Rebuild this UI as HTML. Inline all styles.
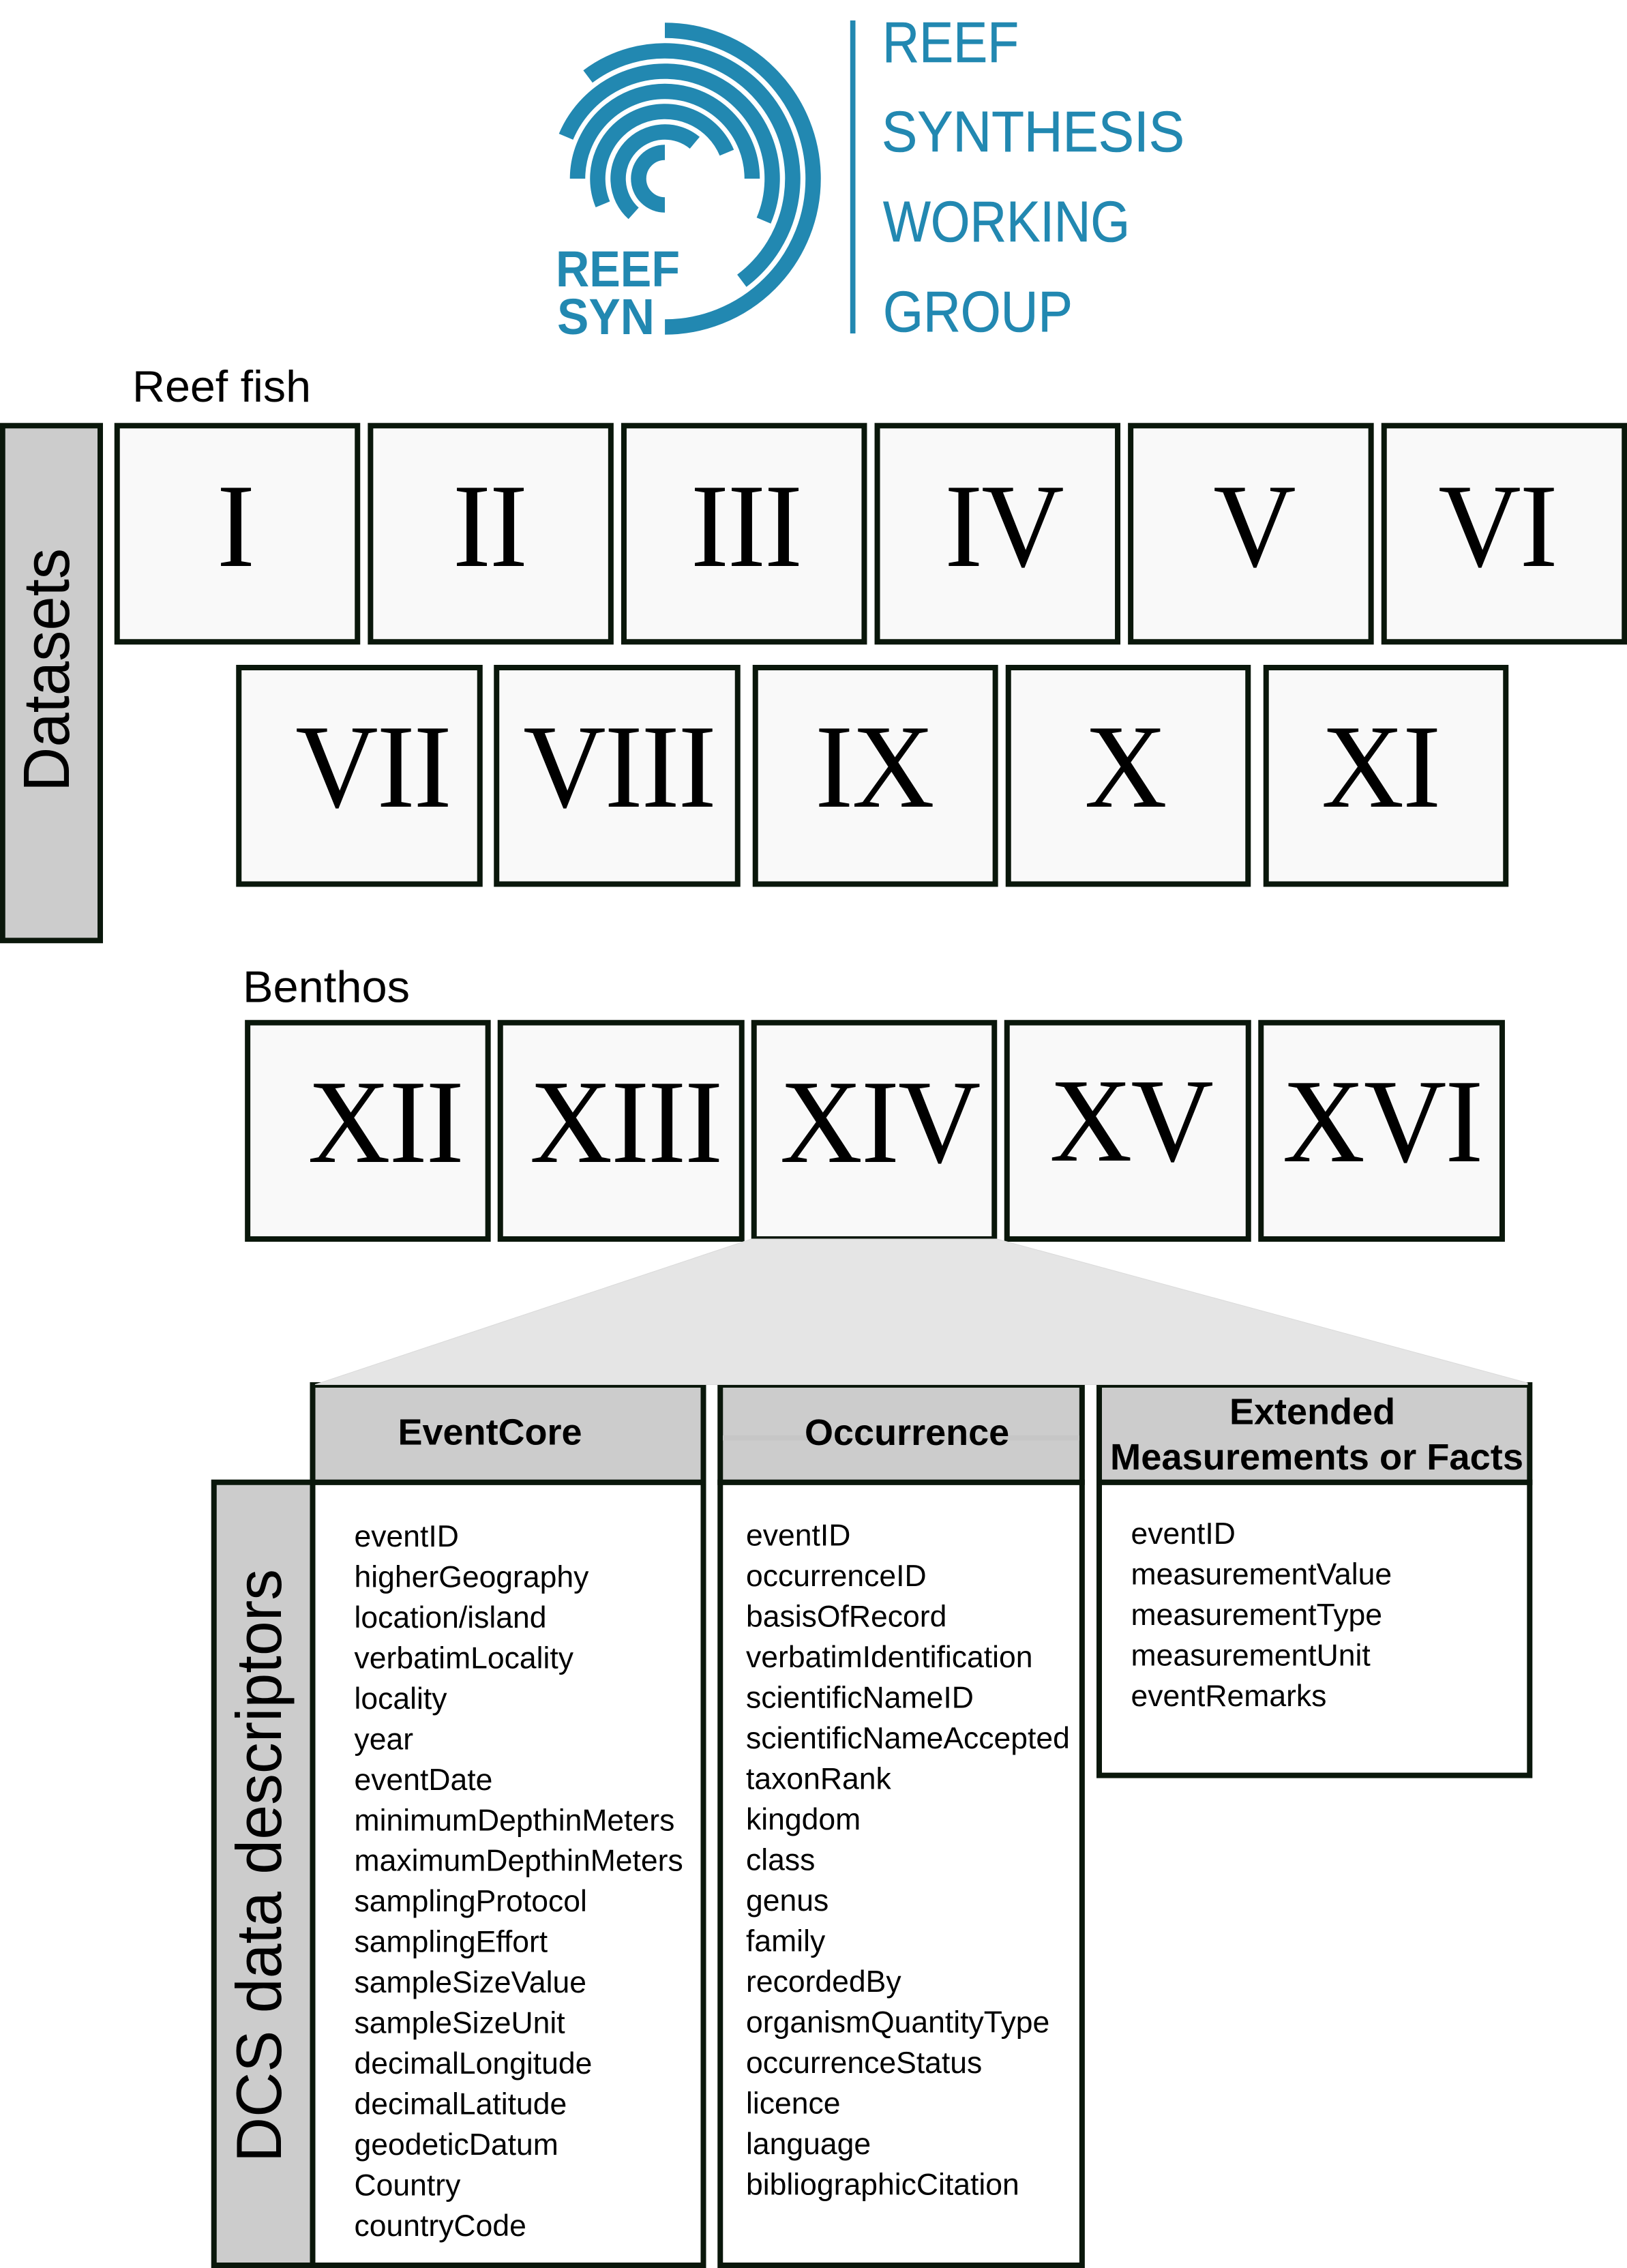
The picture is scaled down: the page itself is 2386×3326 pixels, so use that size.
<!DOCTYPE html>
<html lang="en">
<head>
<meta charset="utf-8">
<title>Reef Synthesis Working Group data overview</title>
<style>
html,body{margin:0;padding:0;background:#fff;}
svg{display:block;}
.sans{font-family:"Liberation Sans",sans-serif;}
.serif{font-family:"Liberation Serif",serif;font-size:175px;fill:#000;text-anchor:middle;letter-spacing:-2px;}
.box{fill:#f9f9f9;stroke:#0a170b;stroke-width:8;}
.side{fill:#ccc;stroke:#0a170b;stroke-width:8;}
.body{fill:#fff;stroke:#0a170b;stroke-width:8;}
.arc{fill:none;stroke:#2288b1;stroke-width:22.5;}
.lt{font-family:"Liberation Sans",sans-serif;font-size:84px;fill:#2288b1;stroke:#2288b1;stroke-width:.6px;}
.f{font-family:"Liberation Sans",sans-serif;font-size:44.5px;fill:#000;}
.h{font-family:"Liberation Sans",sans-serif;font-size:54px;font-weight:bold;fill:#000;}
</style>
</head>
<body>
<svg xmlns="http://www.w3.org/2000/svg" width="2386" height="3326" viewBox="0 0 2386 3326">
<rect x="0" y="0" width="2386" height="3326" fill="#fff"/>

<g>
<circle class="arc" cx="975" cy="262" r="217.5" pathLength="360" stroke-dasharray="180 360" transform="rotate(-90 975 262)"/>
<circle class="arc" cx="975" cy="262" r="187.5" pathLength="360" stroke-dasharray="180 360" transform="rotate(-127 975 262)"/>
<circle class="arc" cx="975" cy="262" r="157.5" pathLength="360" stroke-dasharray="180 360" transform="rotate(-157 975 262)"/>
<circle class="arc" cx="975" cy="262" r="128" pathLength="360" stroke-dasharray="180 360" transform="rotate(-180 975 262)"/>
<circle class="arc" cx="975" cy="262" r="98.5" pathLength="360" stroke-dasharray="180 360" transform="rotate(-202.5 975 262)"/>
<circle class="arc" cx="975" cy="262" r="68.5" pathLength="360" stroke-dasharray="178 360" transform="rotate(-228 975 262)"/>
<circle class="arc" cx="975" cy="262" r="38.5" pathLength="360" stroke-dasharray="180 360" transform="rotate(90 975 262)"/>
<text class="sans" x="815" y="420" font-size="74" font-weight="bold" fill="#2288b1" textLength="182" lengthAdjust="spacingAndGlyphs">REEF</text>
<text class="sans" x="817" y="490" font-size="74" font-weight="bold" fill="#2288b1" textLength="143" lengthAdjust="spacingAndGlyphs">SYN</text>
<rect x="1246.8" y="30" width="7.7" height="459" fill="#2288b1"/>
<text class="lt" x="1294" y="91" textLength="200" lengthAdjust="spacingAndGlyphs">REEF</text>
<text class="lt" x="1293" y="222" textLength="444" lengthAdjust="spacingAndGlyphs">SYNTHESIS</text>
<text class="lt" x="1295" y="354" textLength="362" lengthAdjust="spacingAndGlyphs">WORKING</text>
<text class="lt" x="1295" y="486" textLength="278" lengthAdjust="spacingAndGlyphs">GROUP</text>
</g>

<text class="sans" x="194" y="589" font-size="65" fill="#000" textLength="262" lengthAdjust="spacingAndGlyphs">Reef fish</text>

<rect class="side" x="3.75" y="624.25" width="143.25" height="755"/>
<text class="sans" transform="translate(101 1161) rotate(-90)" x="0" y="0" font-size="96" fill="#000" textLength="357" lengthAdjust="spacingAndGlyphs">Datasets</text>

<g>
<rect class="box" x="171.75" y="624.25" width="352.5" height="317"/>
<text class="serif" transform="translate(345 830) scale(.96 1)" x="0" y="0">I</text>
<rect class="box" x="543.35" y="624.25" width="352.5" height="317"/>
<text class="serif" transform="translate(718 830) scale(.96 1)" x="0" y="0">II</text>
<rect class="box" x="914.95" y="624.25" width="352.5" height="317"/>
<text class="serif" transform="translate(1094 830) scale(.96 1)" x="0" y="0">III</text>
<rect class="box" x="1286.55" y="624.25" width="352.5" height="317"/>
<text class="serif" transform="translate(1472 830) scale(.96 1)" x="0" y="0">IV</text>
<rect class="box" x="1658.15" y="624.25" width="352.5" height="317"/>
<text class="serif" transform="translate(1839 830) scale(.96 1)" x="0" y="0">V</text>
<rect class="box" x="2029.75" y="624.25" width="352.5" height="317"/>
<text class="serif" transform="translate(2196 830) scale(.96 1)" x="0" y="0">VI</text>

<rect class="box" x="350.25" y="979" width="353.5" height="317.5"/>
<text class="serif" transform="translate(547 1183) scale(.96 1)" x="0" y="0">VII</text>
<rect class="box" x="728.25" y="979" width="353.5" height="317.5"/>
<text class="serif" transform="translate(908 1183) scale(.96 1)" x="0" y="0">VIII</text>
<rect class="box" x="1107.75" y="979" width="351.9" height="317.5"/>
<text class="serif" transform="translate(1282 1183) scale(.96 1)" x="0" y="0">IX</text>
<rect class="box" x="1478.75" y="979" width="351.5" height="317.5"/>
<text class="serif" transform="translate(1650 1183) scale(.96 1)" x="0" y="0">X</text>
<rect class="box" x="1856.75" y="979" width="351.5" height="317.5"/>
<text class="serif" transform="translate(2024.5 1183) scale(.96 1)" x="0" y="0">XI</text>
</g>

<text class="sans" x="356" y="1469.5" font-size="65" fill="#000" textLength="245" lengthAdjust="spacingAndGlyphs">Benthos</text>

<g>
<rect class="box" x="363.15" y="1499.75" width="352.5" height="317.25"/>
<text class="serif" transform="translate(565 1704) scale(.96 1)" x="0" y="0">XII</text>
<rect class="box" x="733.75" y="1499.75" width="354" height="317.25"/>
<text class="serif" transform="translate(917.5 1704) scale(.96 1)" x="0" y="0">XIII</text>
<rect class="box" x="1105.75" y="1499.75" width="352.5" height="317.25"/>
<text class="serif" transform="translate(1290 1704) scale(.96 1)" x="0" y="0">XIV</text>
<rect class="box" x="1476.75" y="1499.75" width="354" height="317.25"/>
<text class="serif" transform="translate(1658.5 1702) scale(.96 1)" x="0" y="0">XV</text>
<rect class="box" x="1849.25" y="1499.75" width="353.7" height="317.25"/>
<text class="serif" transform="translate(2027 1703) scale(.96 1)" x="0" y="0">XVI</text>
</g>

<rect class="side" x="313.75" y="2173.75" width="145" height="1148.25"/>
<text class="sans" transform="translate(412 3171) rotate(-90)" x="0" y="0" font-size="94" fill="#000" textLength="870" lengthAdjust="spacingAndGlyphs">DCS data descriptors</text>

<g>
<rect class="body" x="458.5" y="2173.75" width="573" height="1148.25"/>
<rect class="side" x="458.5" y="2031" width="573" height="142.75"/>
<text class="h" x="583.5" y="2118.5">EventCore</text>
<text class="f" x="519.5" y="2268">eventID</text>
<text class="f" x="519.5" y="2327.5">higherGeography</text>
<text class="f" x="519.5" y="2387">location/island</text>
<text class="f" x="519.5" y="2446.5">verbatimLocality</text>
<text class="f" x="519.5" y="2506">locality</text>
<text class="f" x="519.5" y="2565.5">year</text>
<text class="f" x="519.5" y="2625">eventDate</text>
<text class="f" x="519.5" y="2684.5">minimumDepthinMeters</text>
<text class="f" x="519.5" y="2743.5">maximumDepthinMeters</text>
<text class="f" x="519.5" y="2803">samplingProtocol</text>
<text class="f" x="519.5" y="2862.5">samplingEffort</text>
<text class="f" x="519.5" y="2922">sampleSizeValue</text>
<text class="f" x="519.5" y="2981.5">sampleSizeUnit</text>
<text class="f" x="519.5" y="3041">decimalLongitude</text>
<text class="f" x="519.5" y="3100.5">decimalLatitude</text>
<text class="f" x="519.5" y="3160">geodeticDatum</text>
<text class="f" x="519.5" y="3219.5">Country</text>
<text class="f" x="519.5" y="3279">countryCode</text>
</g>

<g>
<rect class="body" x="1056.25" y="2173.75" width="530.6" height="1148.25"/>
<rect class="side" x="1056.25" y="2031" width="530.6" height="142.75"/>
<rect x="1060" y="2105" width="523" height="7.5" fill="#c6c6c6"/>
<text class="h" x="1180" y="2119">Occurrence</text>
<text class="f" x="1094" y="2266.4">eventID</text>
<text class="f" x="1094" y="2325.9">occurrenceID</text>
<text class="f" x="1094" y="2385.4">basisOfRecord</text>
<text class="f" x="1094" y="2444.9">verbatimIdentification</text>
<text class="f" x="1094" y="2504.4">scientificNameID</text>
<text class="f" x="1094" y="2563.9">scientificNameAccepted</text>
<text class="f" x="1094" y="2623.4">taxonRank</text>
<text class="f" x="1094" y="2682.9">kingdom</text>
<text class="f" x="1094" y="2742.4">class</text>
<text class="f" x="1094" y="2801.9">genus</text>
<text class="f" x="1094" y="2861.4">family</text>
<text class="f" x="1094" y="2920.9">recordedBy</text>
<text class="f" x="1094" y="2980.4">organismQuantityType</text>
<text class="f" x="1094" y="3039.9">occurrenceStatus</text>
<text class="f" x="1094" y="3099.4">licence</text>
<text class="f" x="1094" y="3158.9">language</text>
<text class="f" x="1094" y="3218.4">bibliographicCitation</text>
</g>

<g>
<rect class="body" x="1612" y="2173.75" width="631.3" height="429.85"/>
<rect class="side" x="1612" y="2031" width="631.3" height="142.75"/>
<text class="h" x="1803" y="2088.5">Extended</text>
<text class="h" x="1628" y="2155" textLength="606" lengthAdjust="spacingAndGlyphs">Measurements or Facts</text>
<text class="f" x="1658.5" y="2264">eventID</text>
<text class="f" x="1658.5" y="2323.5">measurementValue</text>
<text class="f" x="1658.5" y="2383">measurementType</text>
<text class="f" x="1658.5" y="2442.5">measurementUnit</text>
<text class="f" x="1658.5" y="2502">eventRemarks</text>
</g>

<polygon points="1102,1817 1462,1817 2240,2028 2240,2030.5 462,2030.5" fill="#e5e5e5" stroke="#dadada" stroke-width="1"/>
</svg>
</body>
</html>
